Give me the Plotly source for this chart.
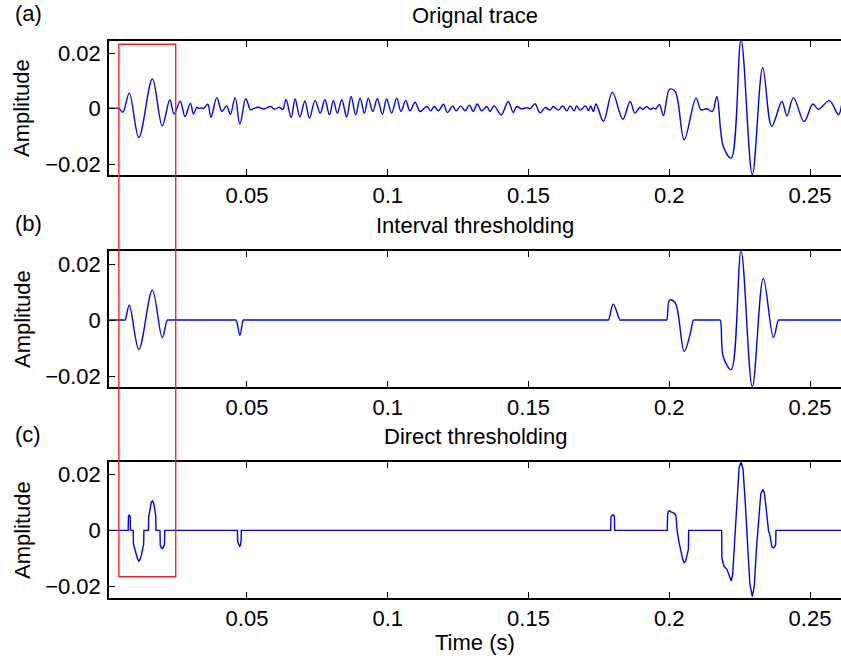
import plotly.graph_objects as go

W, H = 841, 663

# ---------------- data ----------------
orig_time = [0.0010, 0.0030, 0.0045, 0.0059, 0.0082, 0.0116, 0.0164, 0.0199, 0.0226, 0.0241,
             0.0263, 0.0280, 0.0299, 0.0310, 0.0322, 0.0330, 0.0338, 0.0346, 0.0361, 0.0372,
             0.0393, 0.0411, 0.0428, 0.0441, 0.0458, 0.0475, 0.0496, 0.0513, 0.0525, 0.0540,
             0.0560, 0.0584, 0.0598, 0.0615, 0.0627, 0.0639, 0.0657, 0.0671, 0.0688, 0.0706,
             0.0722, 0.0742, 0.0760, 0.0777, 0.0793, 0.0807, 0.0821, 0.0837, 0.0854, 0.0870,
             0.0886, 0.0902, 0.0917, 0.0931, 0.0947, 0.0963, 0.0981, 0.0996, 0.1014, 0.1032,
             0.1047, 0.1064, 0.1079, 0.1097, 0.1115, 0.1139, 0.1153, 0.1165, 0.1180, 0.1198,
             0.1212, 0.1231, 0.1243, 0.1259, 0.1275, 0.1290, 0.1304, 0.1318, 0.1334, 0.1352,
             0.1363, 0.1378, 0.1403, 0.1428, 0.1446, 0.1458, 0.1476, 0.1494, 0.1506, 0.1523,
             0.1541, 0.1559, 0.1577, 0.1588, 0.1606, 0.1622, 0.1636, 0.1648, 0.1662, 0.1671,
             0.1683, 0.1703, 0.1713, 0.1721, 0.1730, 0.1740, 0.1766, 0.1798, 0.1835, 0.1861,
             0.1878, 0.1896, 0.1906, 0.1920, 0.1932, 0.1944, 0.1952, 0.1965, 0.1979, 0.2001,
             0.2021, 0.2053, 0.2095, 0.2113, 0.2133, 0.2153, 0.2169, 0.2192, 0.2220, 0.2255,
             0.2295, 0.2332, 0.2364, 0.2400, 0.2418, 0.2441, 0.2479, 0.2510, 0.2530, 0.2569,
             0.2601, 0.2612]
orig_amp = [0.0002, 0.0002, 0.0001, -0.0013, 0.0056, -0.0104, 0.0107, -0.0062, 0.0032, -0.0019,
            0.0027, -0.0028, 0.0020, -0.0019, 0.0005, 0.0001, 0.0003, 0.0001, 0.0016, -0.0031,
            0.0040, -0.0010, 0.0010, -0.0020, 0.0040, -0.0055, 0.0036, -0.0004, 0.0001, 0.0005,
            -0.0001, 0.0008, -0.0002, 0.0005, -0.0003, 0.0032, -0.0032, 0.0035, -0.0030, 0.0028,
            -0.0034, 0.0030, -0.0016, 0.0032, -0.0022, 0.0030, -0.0016, 0.0032, -0.0030, 0.0044,
            -0.0022, 0.0038, -0.0016, 0.0038, -0.0010, 0.0036, -0.0020, 0.0035, -0.0016, 0.0038,
            -0.0010, 0.0030, -0.0008, 0.0023, -0.0010, 0.0008, -0.0008, 0.0008, -0.0008, 0.0016,
            -0.0014, 0.0010, -0.0008, 0.0010, -0.0008, 0.0013, -0.0010, 0.0017, -0.0008, 0.0008,
            -0.0010, 0.0010, -0.0022, 0.0026, -0.0014, 0.0008, -0.0001, 0.0004, 0.0000, 0.0018,
            -0.0015, 0.0004, -0.0005, 0.0008, -0.0005, 0.0010, -0.0008, 0.0010, -0.0008, 0.0010,
            -0.0005, 0.0010, -0.0007, 0.0010, -0.0010, 0.0017, -0.0046, 0.0059, -0.0038, 0.0026,
            -0.0016, 0.0005, -0.0003, 0.0008, -0.0002, 0.0003, -0.0001, 0.0015, -0.0025, 0.0070,
            0.0062, -0.0112, 0.0038, -0.0004, 0.0000, -0.0010, 0.0044, -0.0136, -0.0178, 0.0248,
            -0.0238, 0.0148, -0.0064, 0.0026, -0.0026, 0.0040, -0.0046, 0.0017, -0.0002, 0.0029,
            -0.0022, 0.0013]

interval_time = [0.0010, 0.0040, 0.0062, 0.0067, 0.0082, 0.0116, 0.0164, 0.0199, 0.0217, 0.0222,
                 0.0455, 0.0461, 0.0475, 0.0487, 0.0492, 0.1779, 0.1784, 0.1801, 0.1825, 0.1830,
                 0.1986, 0.1991, 0.2001, 0.2021, 0.2053, 0.2075, 0.2086, 0.2091, 0.2176, 0.2181,
                 0.2192, 0.2220, 0.2255, 0.2295, 0.2334, 0.2370, 0.2388, 0.2393, 0.2500, 0.2612]
interval_amp = [0.0, 0.0, 0.0, 0.0, 0.0053, -0.0105, 0.0107, -0.0063, 0.0, 0.0,
                0.0, 0.0, -0.0054, 0.0, 0.0, 0.0, 0.0, 0.0057, 0.0, 0.0,
                0.0, 0.0, 0.0071, 0.0062, -0.0112, -0.0047, 0.0, 0.0, 0.0, 0.0,
                -0.0132, -0.0177, 0.0247, -0.0238, 0.0149, -0.0062, 0.0, 0.0, 0.0, 0.0]

direct_time = [0.0010, 0.0078, 0.0079, 0.0082, 0.0085, 0.0086,
               0.0096, 0.0097, 0.0102, 0.0107, 0.0112, 0.0116, 0.0120, 0.0125, 0.0130, 0.0133, 0.0134,
               0.0150, 0.0151, 0.0155, 0.0160, 0.0164, 0.0168, 0.0172, 0.0176, 0.0177,
               0.0191, 0.0192, 0.0196, 0.0200, 0.0204, 0.0207, 0.0208,
               0.0466, 0.0467, 0.0471, 0.0474, 0.0477, 0.0479, 0.0480,
               0.1792, 0.1793, 0.1796, 0.1799, 0.1802, 0.1805, 0.1806,
               0.1993, 0.1994, 0.1997, 0.2001, 0.2007, 0.2014, 0.2021, 0.2024, 0.2028, 0.2035,
               0.2042, 0.2048, 0.2053, 0.2058, 0.2063, 0.2068, 0.2069,
               0.2186, 0.2187, 0.2195, 0.2205, 0.2213, 0.2220, 0.2225, 0.2232, 0.2240, 0.2248,
               0.2255, 0.2262, 0.2270, 0.2278, 0.2286, 0.2295, 0.2302, 0.2310, 0.2318, 0.2325,
               0.2332, 0.2338, 0.2345, 0.2350, 0.2353, 0.2356, 0.2360, 0.2365, 0.2370, 0.2375,
               0.2378, 0.2379, 0.2612]
direct_amp = [0.0, 0.0, 0.0050, 0.0056, 0.0050, 0.0,
              0.0, -0.0050, -0.0068, -0.0090, -0.0104, -0.0110, -0.0105, -0.0088, -0.0060, -0.0050, 0.0,
              0.0, 0.0048, 0.0075, 0.0100, 0.0106, 0.0100, 0.0080, 0.0052, 0.0,
              0.0, -0.0052, -0.0063, -0.0065, -0.0060, -0.0052, 0.0,
              0.0, -0.0040, -0.0054, -0.0057, -0.0054, -0.0040, 0.0,
              0.0, 0.0050, 0.0055, 0.0056, 0.0055, 0.0050, 0.0,
              0.0, 0.0055, 0.0068, 0.0071, 0.0066, 0.0064, 0.0058, 0.0050, 0.0000, -0.0045,
              -0.0080, -0.0105, -0.0116, -0.0110, -0.0090, -0.0068, 0.0,
              0.0, -0.0100, -0.0130, -0.0140, -0.0160, -0.0182, -0.0160, -0.0040, 0.0130, 0.0225,
              0.0246, 0.0220, 0.0100, -0.0060, -0.0190, -0.0238, -0.0200, -0.0060, 0.0060, 0.0130,
              0.0148, 0.0135, 0.0070, 0.0010, -0.0005, -0.0010, -0.0040, -0.0060, -0.0063, -0.0058,
              -0.0050, 0.0, 0.0]

panel_titles = ["Orignal trace", "Interval thresholding", "Direct thresholding"]
panel_labels = ["(a)", "(b)", "(c)"]
x_tickvals = [0.05, 0.1, 0.15, 0.2, 0.25]
x_ticktext = ["0.05", "0.1", "0.15", "0.2", "0.25"]
y_tickvals = [-0.02, 0, 0.02]
y_ticktext = ["\u22120.02", "0", "0.02"]

# ---------------- layout helpers ----------------
def px_x(p):
    return p / W

def px_y(p):
    return 1 - p / H

FONT = "Liberation Sans, Arial, Helvetica, sans-serif"
FS = 22

panels = [  # (top px, bottom px, y range)
    (41, 175, [-0.0239, 0.0244]),
    (251, 387, [-0.0239, 0.02466]),
    (462, 598, [-0.0243, 0.0246]),
]
x_dom = [px_x(109), 1.0]
x_range = [0.001, 0.2610]

fig = go.Figure()
series = [(orig_time, orig_amp, "spline"), (interval_time, interval_amp, "spline"),
          (direct_time, direct_amp, "linear")]
for i, (t, a, shp) in enumerate(series):
    n = "" if i == 0 else str(i + 1)
    line = dict(color="#0000ff", width=1.4, shape=shp)
    if shp == "spline":
        line["smoothing"] = 1.0
    fig.add_trace(go.Scatter(x=t, y=a, mode="lines", xaxis="x" + n, yaxis="y" + n,
                             line=line, showlegend=False, hoverinfo="skip"))

axis_font = dict(family=FONT, size=FS, color="black")
for i, (top, bot, yr) in enumerate(panels):
    n = "" if i == 0 else str(i + 1)
    dom = [px_y(bot), px_y(top)]
    fig.layout["xaxis" + n] = dict(domain=x_dom, range=x_range, anchor="y" + n,
                                   showline=True, linecolor="black", linewidth=1.5, mirror="ticks",
                                   ticks="inside", ticklen=6, tickwidth=1, tickcolor="black",
                                   tickvals=x_tickvals, ticktext=x_ticktext, tickfont=axis_font,
                                   showgrid=False, zeroline=False, automargin=False,
                                   ticklabelstandoff=0)
    fig.layout["yaxis" + n] = dict(domain=dom, range=yr, anchor="x" + n,
                                   showline=True, linecolor="black", linewidth=1.5, mirror=False,
                                   ticks="inside", ticklen=6, tickwidth=1, tickcolor="black",
                                   tickvals=y_tickvals, ticktext=y_ticktext, tickfont=axis_font,
                                   showgrid=False, zeroline=False, automargin=False,
                                   ticklabelstandoff=2)
    # right-hand inside ticks (no right line, as in the cropped reference)
    k = str(i + 4)
    fig.layout["yaxis" + k] = dict(overlaying="y" + n, side="right", anchor="x" + n, range=yr,
                                   showline=False, ticks="inside", ticklen=6, tickwidth=1,
                                   tickcolor="black", tickvals=y_tickvals, showticklabels=False,
                                   showgrid=False, zeroline=False, automargin=False)

    cy = (top + bot) / 2
    fig.add_annotation(text="Amplitude", x=px_x(22), y=px_y(cy), xref="paper", yref="paper",
                       textangle=-90, showarrow=False, font=axis_font,
                       xanchor="center", yanchor="middle")
    fig.add_annotation(text=panel_titles[i], x=px_x(475), y=px_y(top - 26), xref="paper", yref="paper",
                       showarrow=False, font=axis_font, xanchor="center", yanchor="middle")
    fig.add_annotation(text=panel_labels[i], x=px_x(28), y=px_y(top - 28), xref="paper", yref="paper",
                       showarrow=False, font=axis_font, xanchor="center", yanchor="middle")

fig.add_annotation(text="Time (s)", x=px_x(475), y=px_y(642), xref="paper", yref="paper",
                   showarrow=False, font=axis_font, xanchor="center", yanchor="middle")

# red highlight box spanning the three panels
fig.add_shape(type="rect", xref="x3", yref="paper", x0=0.0045, x1=0.0247,
              y0=px_y(576.7), y1=px_y(44.3), line=dict(color="#ff2020", width=1.4),
              fillcolor="rgba(0,0,0,0)")

fig.update_layout(width=W, height=H, margin=dict(l=0, r=0, t=0, b=0),
                  paper_bgcolor="white", plot_bgcolor="white",
                  font=dict(family=FONT, size=FS, color="black"))

fig.write_html("out.html", config={"displayModeBar": False})
